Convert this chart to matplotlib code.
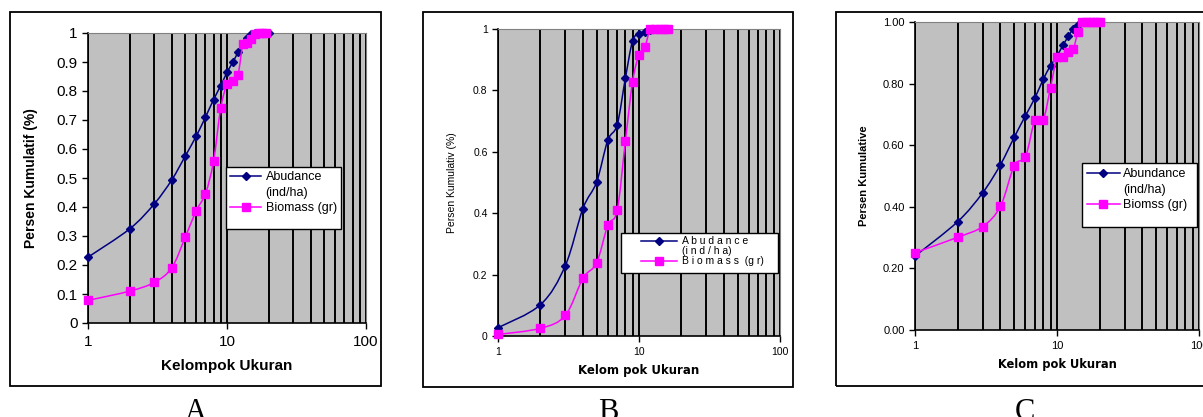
import numpy as np
import matplotlib
matplotlib.use("Agg")
import matplotlib.pyplot as plt
from matplotlib.path import Path
from matplotlib.patches import PathPatch, Rectangle
from matplotlib.lines import Line2D
from matplotlib.ticker import FixedLocator, NullFormatter

plt.rcParams['font.family'] = ['Liberation Sans', 'DejaVu Sans']

# ---- data ----
size_a = list(range(1, 21))
abund_a = [0.227, 0.325, 0.411, 0.493, 0.575, 0.644, 0.710, 0.770, 0.818, 0.864,
           0.899, 0.933, 0.962, 0.984, 0.995, 1.0, 1.0, 1.0, 1.0, 1.0]
size_a_bio = list(range(1, 20))
biom_a = [0.078, 0.110, 0.140, 0.190, 0.295, 0.387, 0.446, 0.558, 0.740, 0.823,
          0.833, 0.855, 0.961, 0.967, 0.980, 0.997, 1.0, 1.0, 1.0]

size_b = list(range(1, 17))
abund_b = [0.027, 0.102, 0.229, 0.415, 0.501, 0.637, 0.688, 0.839, 0.961, 0.984,
           0.991, 0.998, 1.0, 1.0, 1.0, 1.0]
biom_b = [0.005, 0.025, 0.067, 0.188, 0.238, 0.360, 0.409, 0.634, 0.828, 0.916,
          0.941, 1.0, 1.0, 1.0, 1.0, 1.0]

size_c = list(range(1, 21))
abund_c = [0.240, 0.352, 0.446, 0.537, 0.626, 0.696, 0.754, 0.814, 0.858, 0.890,
           0.924, 0.953, 0.978, 0.991, 1.0, 1.0, 1.0, 1.0, 1.0, 1.0]
biom_c = [0.251, 0.301, 0.336, 0.402, 0.534, 0.563, 0.683, 0.683, 0.787, 0.886,
          0.886, 0.902, 0.911, 0.966, 1.0, 1.0, 1.0, 1.0, 1.0, 1.0]

NAVY = '#000080'
MAG = '#FF00FF'
GRAY = '#C0C0C0'

fig = plt.figure(figsize=(12.03, 4.17), dpi=100)
W, H = 1203.0, 417.0


def smooth_path(x, y):
    # Catmull-Rom style bezier in log-x space (like excel smoothed lines)
    lx = np.log10(np.asarray(x, float))
    y = np.asarray(y, float)
    n = len(lx)
    verts = [(x[0], y[0])]
    codes = [Path.MOVETO]
    for i in range(n - 1):
        i0 = max(i - 1, 0)
        i3 = min(i + 2, n - 1)
        c1x = lx[i] + (lx[i + 1] - lx[i0]) / 6.0
        c1y = y[i] + (y[i + 1] - y[i0]) / 6.0
        c2x = lx[i + 1] - (lx[i3] - lx[i]) / 6.0
        c2y = y[i + 1] - (y[i3] - y[i]) / 6.0
        verts += [(10 ** c1x, c1y), (10 ** c2x, c2y), (x[i + 1], y[i + 1])]
        codes += [Path.CURVE4] * 3
    return Path(verts, codes)


def panel(ax, xa, ya, xb, yb, yticks, ylabels, ylab, xlab, leg_labels,
          tick_fs, xpad, ylab_kw, xlab_kw, leg_box, leg_anchor, leg_kw):
    ax.set_xscale('log')
    ax.set_xlim(1, 100)
    ax.set_ylim(0, 1)
    ax.set_facecolor(GRAY)
    # vertical grid at every log step
    ax.xaxis.set_major_locator(FixedLocator([1, 10, 100]))
    ax.xaxis.set_minor_locator(FixedLocator([2, 3, 4, 5, 6, 7, 8, 9,
                                             20, 30, 40, 50, 60, 70, 80, 90]))
    ax.xaxis.set_minor_formatter(NullFormatter())
    ax.set_xticklabels(['1', '10', '100'])
    ax.grid(True, which='both', axis='x', color='black', lw=1.4)
    ax.set_axisbelow(True)
    ax.tick_params(axis='x', which='minor', length=0)
    ax.tick_params(axis='x', which='major', length=4, width=1, pad=xpad,
                   labelsize=tick_fs)
    ax.tick_params(axis='y', length=4, width=1, labelsize=tick_fs)
    ax.set_yticks(yticks)
    ax.set_yticklabels(ylabels)
    for s in ['top', 'right']:
        ax.spines[s].set_color('#808080')
    for s in ['left', 'bottom']:
        ax.spines[s].set_color('black')
        ax.spines[s].set_linewidth(1.2)

    ax.add_patch(PathPatch(smooth_path(xa, ya), fill=False, ec=NAVY, lw=1.1,
                           zorder=3))
    ax.plot(xa, ya, ls='none', marker='D', ms=4.5, color=NAVY, zorder=4,
            clip_on=False)
    ax.add_patch(PathPatch(smooth_path(xb, yb), fill=False, ec=MAG, lw=1.1,
                           zorder=5))
    ax.plot(xb, yb, ls='none', marker='s', ms=5.5, color=MAG, zorder=6,
            clip_on=False)

    ax.set_ylabel(ylab, **ylab_kw)
    ax.set_xlabel(xlab, **xlab_kw)

    # legend box drawn like the excel one (fixed size), entries on top
    l, r, t, b = leg_box
    ax.add_patch(Rectangle((l / W, 1 - b / H), (r - l) / W, (b - t) / H,
                           transform=fig.transFigure, fc='white', ec='black',
                           lw=1.0, zorder=10, clip_on=False))
    handles = [Line2D([], [], color=NAVY, marker='D', ms=4.5, lw=1.1),
               Line2D([], [], ls='none'),
               Line2D([], [], color=MAG, marker='s', ms=5.5, lw=1.1)]
    leg = ax.legend(handles, leg_labels, frameon=False, borderpad=0,
                    borderaxespad=0, loc='upper left',
                    bbox_to_anchor=(leg_anchor[0] / W, 1 - leg_anchor[1] / H),
                    bbox_transform=fig.transFigure, **leg_kw)
    leg.set_zorder(11)
    return ax


def fax(l, r, t, b):
    return fig.add_axes([l / W, 1 - b / H, (r - l) / W, (b - t) / H])


def fig_box(l, r, t, b):
    fig.patches.append(Rectangle((l / W, 1 - b / H), (r - l) / W, (b - t) / H,
                                 transform=fig.transFigure, fill=False,
                                 ec='black', lw=1.3))


fig_box(10, 381, 12, 386)
fig_box(423, 793, 12, 387)
fig_box(836, 1215, 12, 386)

# panel A
axA = fax(88, 366, 33, 323)
panel(axA, size_a, abund_a, size_a_bio, biom_a,
      np.arange(0, 1.01, 0.1),
      ['0', '0.1', '0.2', '0.3', '0.4', '0.5', '0.6', '0.7', '0.8', '0.9', '1'],
      'Persen Kumulatif (%)', 'Kelompok Ukuran',
      ['Abudance', '(ind/ha)', 'Biomass (gr)'], 11, 5,
      dict(fontsize=10, fontweight='bold', labelpad=13),
      dict(fontsize=11, fontweight='bold', labelpad=7),
      (226, 341, 167, 229), (230, 171),
      dict(fontsize=9, handlelength=2.5, handletextpad=0.35,
           labelspacing=0.3))

# panel B
axB = fax(498, 780, 29, 336)
panel(axB, size_b, abund_b, size_b, biom_b,
      np.arange(0, 1.01, 0.2), ['0', '0.2', '0.4', '0.6', '0.8', '1'],
      'Persen Kumulativ (%)', 'Kelom pok Ukuran',
      ['A b u d a n c e', '(i n d / h a)', 'B i o m a s s  (g r)'], 7.5, 4,
      dict(fontsize=7.5, family=['Liberation Sans Narrow', 'Liberation Sans'],
           labelpad=11.5),
      dict(fontsize=8.5, fontweight='bold', family=['DejaVu Sans'], labelpad=5),
      (621, 778, 233, 273), (641, 236.5),
      dict(fontsize=7.5, handlelength=3.5, handletextpad=0.4,
           labelspacing=0.0))

# panel C
axC = fax(915, 1199, 22, 330)
panel(axC, size_c, abund_c, size_c, biom_c,
      np.arange(0, 1.01, 0.2), ['0.00', '0.20', '0.40', '0.60', '0.80', '1.00'],
      'Persen Kumulative', 'Kelom pok Ukuran',
      ['Abundance', '(ind/ha)', 'Biomss (gr)'], 8, 4,
      dict(fontsize=8, fontweight='bold', labelpad=10),
      dict(fontsize=8.3, fontweight='bold', family=['DejaVu Sans'], labelpad=5),
      (1082, 1197, 163, 227), (1087, 168),
      dict(fontsize=9, handlelength=2.6, handletextpad=0.3,
           labelspacing=0.3))

for x, s in [(196, 'A'), (608, 'B'), (1025, 'C')]:
    fig.text(x / W, 1 - 398 / H, s, ha='center', va='top', fontsize=22,
             family=['Liberation Serif', 'DejaVu Serif'])

fig.savefig('out.png', dpi=100)
